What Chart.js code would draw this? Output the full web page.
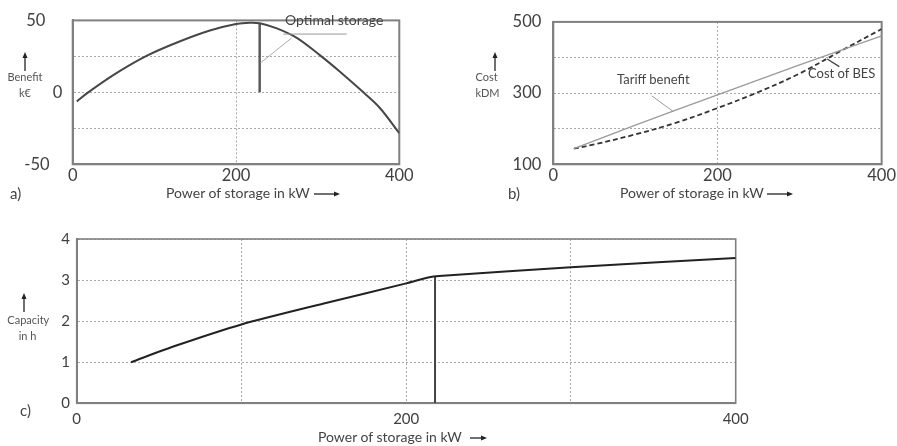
<!DOCTYPE html>
<html><head><meta charset="utf-8">
<script src="https://cdn.jsdelivr.net/npm/chart.js@4.4.1/dist/chart.umd.min.js"></script>
<style>
html,body{margin:0;padding:0;background:#fff;}
body{width:897px;height:446px;position:relative;overflow:hidden;font-family:Lato,"Open Sans",sans-serif;color:#444;}
canvas{position:absolute;}
.t{position:absolute;white-space:nowrap;line-height:1.2;transform:translateY(-50%);}
.c{transform:translate(-50%,-50%);}
svg{position:absolute;overflow:visible;}
</style></head><body>
<canvas id="ca" width="440" height="200" style="left:0;top:0"></canvas>
<canvas id="cb" width="457" height="200" style="left:440px;top:0"></canvas>
<canvas id="cc" width="897" height="210" style="left:0;top:220px"></canvas>
<div id="labels"></div>
<script>
// ---- data ----
const benefitPower = [5, 19, 54, 91, 127, 168, 200, 217, 229, 250, 274, 303, 327, 356, 376, 400];
const benefitValue = [-6.3, 0, 13.5, 25.5, 34.5, 43.0, 47.5, 48.4, 48.0, 44.5, 38.0, 25.7, 14.5, 0, -10.7, -28.4];
const optimalPower = 229;
const optimalBenefit = 47.7;

const tariffPower = [25, 100, 200, 300, 400];
const tariffValue = [144, 210, 295, 379, 461];
const besPower = [25, 50, 100, 150, 200, 250, 300, 350, 400];
const besCost = [144, 156, 184, 217, 258, 303, 355, 418, 480];

const capacityPower = [33, 60, 100, 150, 200, 214, 220, 300, 400];
const capacityHours = [1.0, 1.4, 1.92, 2.43, 2.92, 3.07, 3.1, 3.31, 3.54];
const selectedPower = 217.5;
const selectedHours = 3.08;

const xTicksAB = [0, 200, 400];
const yTicksA = [-50, 0, 50];
const yTicksB = [100, 300, 500];
const xTicksC = [0, 200, 400];
const yTicksC = [0, 1, 2, 3, 4];

// ---- helpers ----
const pts = (xs, ys) => xs.map((x, i) => ({x, y: ys[i]}));
const FONT = 'Lato';
const GRID = '#a8a8a8';
const frame = {
  id: 'frame',
  beforeDatasetsDraw(chart, a, o) {
    const {ctx, chartArea: r} = chart;
    ctx.save(); ctx.strokeStyle = o.color || '#808080'; ctx.lineWidth = o.width || 2;
    ctx.strokeRect(r.left, r.top, r.right - r.left, r.bottom - r.top); ctx.restore();
  }
};
const leaders = {
  id: 'leaders',
  afterDatasetsDraw(chart, a, o) {
    const {ctx, scales: {x, y}} = chart;
    ctx.save();
    (o.lines || []).forEach(l => {
      ctx.strokeStyle = l.color; ctx.lineWidth = l.width; ctx.setLineDash([]);
      ctx.beginPath();
      ctx.moveTo(x.getPixelForValue(l.from[0]), y.getPixelForValue(l.from[1]));
      ctx.lineTo(x.getPixelForValue(l.to[0]), y.getPixelForValue(l.to[1]));
      ctx.stroke();
    });
    ctx.restore();
  }
};
function axis(o) {
  return {
    type: 'linear', min: o.min, max: o.max,
    afterBuildTicks: s => { s.ticks = o.grid.map(v => ({value: v})); },
    ticks: {
      font: {family: FONT, size: o.size}, color: '#404040', padding: o.pad, maxRotation: 0, autoSkip: false,
      callback: v => o.labels.includes(v) ? (o.fmt ? o.fmt(v) : String(v)) : ''
    },
    grid: {color: GRID, lineWidth: 1, drawTicks: false},
    border: {display: true, color: '#808080', width: 2, dash: [2, 2]},
    afterFit: s => { if (o.w !== undefined) s.width = o.w; if (o.h !== undefined) s.height = o.h; }
  };
}
function base(pad, scales, lines, bw) {
  return {
    responsive: false, animation: false, devicePixelRatio: 1,
    layout: {padding: pad},
    plugins: {legend: {display: false}, tooltip: {enabled: false}, frame: {width: bw}, leaders: {lines}},
    elements: {point: {radius: 0}},
    scales
  };
}

// ---- a) Benefit ----
new Chart(document.getElementById('ca'), {
  type: 'scatter',
  data: {datasets: [
    {data: pts(benefitPower, benefitValue), showLine: true, borderColor: '#474747', borderWidth: 2, tension: 0.35},
    {data: pts([optimalPower, optimalPower], [0, optimalBenefit]), showLine: true, borderColor: '#5a5a5a', borderWidth: 2.5}
  ]},
  options: base({left: 0, top: 13.3, right: 40.7, bottom: 0}, {
    x: axis({min: 0, max: 400, grid: [0, 200, 400], labels: xTicksAB, size: 16.5, pad: 1, h: 35.7}),
    y: axis({min: -50, max: 50, grid: [-50, -25, 0, 25, 50], labels: yTicksA, size: 16.5, pad: 10.5, w: 72.7,
      fmt: v => v === 50 ? '50    ' : v === -50 ? '-50   ' : String(v)})
  }, [
    {from: [230.3, 20.6], to: [268.2, 37.8], color: '#aaaaaa', width: 1},
    {from: [258, 40.5], to: [335.6, 40.5], color: '#999999', width: 1}
  ], 2),
  plugins: [frame, leaders]
});

// ---- b) Cost ----
new Chart(document.getElementById('cb'), {
  type: 'scatter',
  data: {datasets: [
    {data: pts(tariffPower, tariffValue), showLine: true, borderColor: '#9a9a9a', borderWidth: 1.3, tension: 0.3},
    {data: pts(besPower, besCost), showLine: true, borderColor: '#333333', borderWidth: 1.8, borderDash: [5, 3], tension: 0.35}
  ]},
  options: base({left: 0, top: 13.3, right: 15.3, bottom: 0}, {
    x: axis({min: 0, max: 400, grid: [0, 200, 400], labels: xTicksAB, size: 16.5, pad: 1, h: 35.7}),
    y: axis({min: 100, max: 500, grid: [100, 200, 300, 400, 500], labels: yTicksB, size: 16.5, pad: 12, w: 113.3})
  }, [
    {from: [119.9, 292.3], to: [146.2, 248.3], color: '#9a9a9a', width: 1},
    {from: [333.7, 395.6], to: [348.4, 374.4], color: '#444444', width: 1.3}
  ], 2),
  plugins: [frame, leaders]
});

// ---- c) Capacity ----
new Chart(document.getElementById('cc'), {
  type: 'scatter',
  data: {datasets: [
    {data: pts(capacityPower, capacityHours), showLine: true, borderColor: '#222222', borderWidth: 2, tension: 0.25},
    {data: pts([selectedPower, selectedPower], [0, selectedHours]), showLine: true, borderColor: '#444444', borderWidth: 2}
  ]},
  options: base({left: 0, top: 19, right: 161.3, bottom: 0}, {
    x: axis({min: 0, max: 400, grid: [0, 100, 200, 300, 400], labels: xTicksC, size: 15, pad: 7, h: 26.7}),
    y: axis({min: 0, max: 4, grid: [0, 1, 2, 3, 4], labels: yTicksC, size: 15, pad: 6.7, w: 76.7})
  }, [], 1.6),
  plugins: [frame, leaders]
});

// ---- text labels ----
const L = document.getElementById('labels');
function txt(s, x, y, size, center, color) {
  const d = document.createElement('div');
  d.className = 't' + (center ? ' c' : '');
  d.textContent = s;
  d.style.left = x + 'px'; d.style.top = y + 'px'; d.style.fontSize = size + 'px';
  if (color) d.style.color = color;
  L.appendChild(d);
}
function upArrow(x, y1, y2) {
  L.insertAdjacentHTML('beforeend', `<svg style="left:${x-4}px;top:${y1}px" width="8" height="${y2-y1}"><line x1="4" y1="4" x2="4" y2="${y2-y1}" stroke="#222" stroke-width="1.3"/><polygon points="1.5,6 4,0 6.5,6" fill="#222"/></svg>`);
}
function rightArrow(x1, x2, y) {
  const w = x2 - x1;
  L.insertAdjacentHTML('beforeend', `<svg style="left:${x1}px;top:${y-4}px" width="${w}" height="8"><line x1="0" y1="4" x2="${w-4}" y2="4" stroke="#222" stroke-width="1.3"/><polygon points="${w-6},1.5 ${w},4 ${w-6},6.5" fill="#222"/></svg>`);
}
// panel a
txt('a)', 10, 193, 15);
txt('Power of storage in kW', 166, 193, 14);
rightArrow(314, 340, 194);
upArrow(25, 52, 71);
txt('Benefit', 25, 77, 11, true, '#555');
txt('k€', 25, 93, 11, true, '#555');
txt('Optimal storage', 285, 20, 14);
// panel b
txt('b)', 508, 193, 15);
txt('Power of storage in kW', 620, 193, 14);
rightArrow(767, 793, 194);
upArrow(495, 52, 71);
txt('Cost', 486.5, 77, 11, true, '#555');
txt('kDM', 487.5, 93, 11, true, '#555');
txt('Tariff benefit', 617, 80, 13);
txt('Cost of BES', 808, 74, 13);
// panel c
txt('c)', 20, 410, 15);
txt('Power of storage in kW', 318, 437, 14);
rightArrow(470, 487, 438);
upArrow(24, 293, 312);
txt('Capacity', 28.3, 320, 11, true, '#555');
txt('in h', 27.5, 336, 11, true, '#555');
</script>
</body></html>
